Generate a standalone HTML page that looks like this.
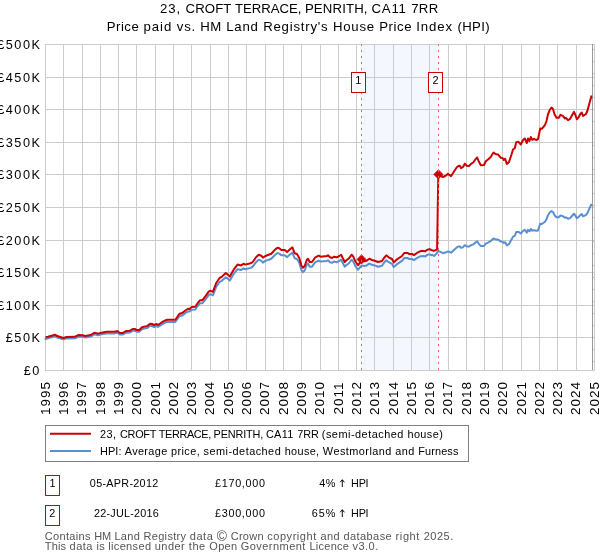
<!DOCTYPE html>
<html><head><meta charset="utf-8"><title>Price paid vs HPI</title>
<style>
html,body{margin:0;padding:0;background:#fff}
body{width:600px;height:560px;position:relative;overflow:hidden;font-family:"Liberation Sans",sans-serif;color:#000}
.t{position:absolute;white-space:pre;line-height:1;font-family:"Liberation Sans",sans-serif}
.r{position:absolute;white-space:nowrap;line-height:1;font-family:"Liberation Sans",sans-serif;transform:translate(-50%,-50%) rotate(-90deg)}
#txt{position:absolute;left:0;top:0;width:600px;height:560px;will-change:transform}
</style></head><body>
<svg width="600" height="560" viewBox="0 0 600 560" style="position:absolute;left:0;top:0">
<rect x="361.5" y="44.5" width="76.8" height="326" fill="#f4f8fe"/>
<path d="M45.5 44V371M63.5 44V371M82.5 44V371M100.5 44V371M118.5 44V371M136.5 44V371M155.5 44V371M173.5 44V371M191.5 44V371M210.5 44V371M228.5 44V371M246.5 44V371M265.5 44V371M283.5 44V371M301.5 44V371M320.5 44V371M338.5 44V371M356.5 44V371M374.5 44V371M393.5 44V371M411.5 44V371M429.5 44V371M448.5 44V371M466.5 44V371M484.5 44V371M502.5 44V371M521.5 44V371M539.5 44V371M557.5 44V371M576.5 44V371M594.5 44V371M45 370.5H595M45 337.5H595M45 305.5H595M45 272.5H595M45 240.5H595M45 207.5H595M45 174.5H595M45 142.5H595M45 109.5H595M45 77.5H595M45 44.5H595" stroke="#cccccc" stroke-width="1" fill="none"/>
<path d="M593 49.6H594.5M593 61.6H594.5M593 73.6H594.5M593 85.6H594.5M593 97.6H594.5M593 109.6H594.5M593 121.6H594.5M593 133.6H594.5M593 145.6H594.5M593 157.6H594.5M593 169.6H594.5M593 181.6H594.5M593 193.6H594.5M593 205.6H594.5M593 217.6H594.5M593 229.6H594.5M593 241.6H594.5M593 253.6H594.5M593 265.6H594.5M593 277.6H594.5M593 289.6H594.5M593 301.6H594.5M593 313.6H594.5M593 325.6H594.5M593 337.6H594.5M593 349.6H594.5M593 361.6H594.5" stroke="#c4c4c4" stroke-width="1" fill="none"/>
<path d="M592.5 44V370" stroke="#999999" stroke-width="1" fill="none"/>
<polyline points="44.7,339.3 48.0,338.2 53.3,336.8 54.7,336.2 57.3,337.5 63.3,339.4 66.7,338.4 74.7,338.3 78.7,336.5 82.7,336.8 85.3,337.5 90.7,336.5 94.7,334.3 98.0,335.2 101.3,334.3 106.7,333.4 114.7,333.4 117.3,332.7 120.0,334.6 122.7,334.6 126.0,332.7 130.0,332.4 132.7,330.8 134.7,330.8 136.7,331.7 139.3,331.7 142.0,329.2 145.3,328.3 147.3,327.9 150.0,325.7 152.0,326.0 154.0,327.0 156.7,326.0 158.0,327.0 161.3,324.8 164.7,322.8 167.3,321.9 175.3,321.9 179.3,316.4 182.7,315.2 186.0,312.6 188.0,311.5 189.6,311.6 191.6,309.8 195.3,309.5 197.7,306.0 200.1,303.2 202.5,303.2 205.7,299.1 208.9,294.8 210.5,294.2 212.9,295.3 216.2,286.8 219.4,282.2 222.1,280.6 225.8,277.3 227.4,278.3 229.8,280.6 233.8,273.8 237.5,269.2 241.1,269.9 243.5,268.3 245.1,269.2 250.7,267.9 252.7,266.7 256.0,262.2 258.7,259.7 261.3,260.6 262.9,262.6 265.3,260.9 268.7,259.7 271.3,258.7 274.7,255.2 277.3,253.0 279.3,253.6 281.3,255.2 284.7,255.2 287.1,257.1 290.0,254.5 292.4,252.6 294.7,258.3 296.9,259.0 299.3,262.8 301.3,269.8 302.9,272.1 304.7,270.5 306.7,264.8 308.0,263.5 309.7,266.7 312.0,266.7 315.3,262.2 318.7,260.6 320.7,261.6 326.7,260.9 328.0,260.3 330.0,262.2 332.0,262.8 334.0,261.6 336.7,262.2 339.3,260.9 341.1,259.7 342.7,262.8 344.7,266.7 346.7,264.8 348.7,263.5 351.7,259.7 353.3,261.6 355.3,266.0 358.0,269.8 360.0,267.3 361.6,265.4 364.0,266.0 366.7,265.4 369.3,263.5 372.0,264.8 374.7,265.4 378.0,266.7 382.0,265.7 384.0,262.8 386.3,260.3 388.7,262.2 392.0,263.8 393.7,267.1 396.7,264.4 400.0,262.2 402.0,260.9 404.4,258.0 407.3,258.0 409.3,259.0 412.0,259.0 414.0,260.1 417.3,257.8 420.7,256.2 423.3,256.1 425.3,256.4 427.3,254.9 429.6,254.3 431.3,255.2 432.2,254.9 434.1,256.0 436.4,253.8 438.2,250.9 443.0,253.2 446.0,252.3 448.0,251.3 451.0,252.7 454.0,249.9 457.0,247.2 458.8,246.4 460.0,246.6 461.0,247.9 463.0,247.2 464.8,245.2 466.8,246.4 469.0,246.6 471.0,245.2 473.2,244.4 475.5,242.4 477.2,241.4 478.8,243.8 480.8,246.1 484.0,246.0 485.8,243.7 488.0,242.6 490.5,241.2 493.5,238.4 495.5,239.3 498.5,239.8 500.8,241.6 502.5,241.7 503.8,242.9 505.2,242.2 506.8,245.3 509.0,244.1 511.5,239.6 513.0,236.6 514.8,235.8 516.2,232.1 518.5,231.9 520.8,233.5 523.0,230.8 524.8,229.9 526.8,232.6 528.0,229.9 529.5,231.4 530.8,229.0 532.2,230.7 534.0,230.1 536.0,230.8 538.0,230.4 540.2,223.8 541.8,224.0 545.0,221.7 546.5,219.3 548.0,215.2 550.0,212.3 551.5,211.1 553.0,212.0 554.5,215.2 556.5,217.3 558.8,217.3 560.5,215.5 562.8,216.1 565.0,217.8 566.0,217.3 568.0,218.8 570.0,218.1 572.2,215.7 574.0,213.7 575.2,215.3 576.8,218.2 578.5,217.2 580.0,215.3 581.8,214.1 583.0,216.3 586.0,215.0 587.5,212.9 589.5,208.4 591.6,203.8" fill="none" stroke="#5a8fd2" stroke-width="2" stroke-linejoin="round" stroke-linecap="butt"/>
<polyline points="45.5,337.3 48.0,336.7 53.3,335.3 54.7,334.7 57.3,336.0 63.3,338.0 66.7,337.0 74.7,336.8 78.7,335.0 82.7,335.3 85.3,336.0 90.7,335.0 94.7,332.7 98.0,333.6 101.3,332.7 106.7,331.7 114.7,331.7 117.3,331.0 120.0,333.0 122.7,333.0 126.0,331.0 130.0,330.7 132.7,329.0 134.7,329.0 136.7,330.0 139.3,330.0 142.0,327.3 145.3,326.4 147.3,326.0 150.0,323.7 152.0,324.0 154.0,325.0 156.7,324.0 158.0,325.0 161.3,322.7 164.7,320.7 167.3,319.7 175.3,319.7 179.3,314.0 182.7,312.7 186.0,310.0 188.0,308.8 189.6,309.0 191.6,307.1 195.3,306.8 197.7,303.1 200.1,300.2 202.5,300.2 205.7,295.9 208.9,291.4 210.5,290.8 212.9,291.9 216.2,283.0 219.4,278.2 222.1,276.6 225.8,273.1 227.4,274.2 229.8,276.6 233.8,269.4 237.5,264.6 241.1,265.4 243.5,263.7 245.1,264.6 250.7,263.3 252.7,262.0 256.0,257.3 258.7,254.7 261.3,255.7 262.9,257.7 265.3,256.0 268.7,254.7 271.3,253.7 274.7,250.0 277.3,247.7 279.3,248.3 281.3,250.0 284.7,250.0 287.1,252.0 290.0,249.3 292.4,247.3 294.7,253.3 296.9,254.0 299.3,258.0 301.3,265.3 302.9,267.7 304.7,266.0 306.7,260.0 308.0,258.7 309.7,262.0 312.0,262.0 315.3,257.3 318.7,255.7 320.7,256.7 326.7,256.0 328.0,255.3 330.0,257.3 332.0,258.0 334.0,256.7 336.7,257.3 339.3,256.0 341.1,254.7 342.7,258.0 344.7,262.0 346.7,260.0 348.7,258.7 351.7,254.7 353.3,256.7 355.3,261.3 358.0,265.3 360.0,262.7 361.6,260.7 364.0,261.3 366.7,260.7 369.3,258.7 372.0,260.0 374.7,260.7 378.0,262.0 382.0,261.0 384.0,258.0 386.3,255.3 388.7,257.3 392.0,259.0 393.7,262.4 396.7,259.6 400.0,257.3 402.0,256.0 404.4,252.9 407.3,252.9 409.3,254.0 412.0,254.0 414.0,255.1 417.3,252.7 420.7,251.1 423.3,250.9 425.3,251.3 427.3,249.7 429.6,249.1 431.3,250.0 434.0,250.9 436.7,249.6 437.1,248.9 438.3,174.5 443.0,177.0 446.0,175.5 448.0,173.8 451.0,176.2 454.0,171.5 457.0,167.0 458.8,165.8 460.0,166.0 461.0,168.2 463.0,167.0 464.8,163.8 466.8,165.8 469.0,166.0 471.0,163.8 473.2,162.5 475.5,159.2 477.2,157.5 478.8,161.5 480.8,165.2 484.0,165.0 485.8,161.2 488.0,159.5 490.5,157.2 493.5,152.5 495.5,154.0 498.5,154.8 500.8,157.8 502.5,158.0 503.8,160.0 505.2,158.8 506.8,164.0 509.0,162.0 511.5,154.5 513.0,149.5 514.8,148.2 516.2,142.2 518.5,141.8 520.8,144.5 523.0,140.0 524.8,138.5 526.8,143.0 528.0,138.5 529.5,141.0 530.8,137.0 532.2,139.8 534.0,138.8 536.0,140.0 538.0,139.3 540.2,128.5 541.8,128.8 545.0,125.0 546.5,121.0 548.0,114.2 550.0,109.5 551.5,107.5 553.0,109.0 554.5,114.2 556.5,117.8 558.8,117.8 560.5,114.8 562.8,115.8 565.0,118.5 566.0,117.8 568.0,120.2 570.0,119.0 572.2,115.0 574.0,111.8 575.2,114.5 576.8,119.2 578.5,117.5 580.0,114.5 581.8,112.5 583.0,116.0 586.0,114.0 587.5,110.5 589.5,103.0 591.6,95.4" fill="none" stroke="#cc0000" stroke-width="2" stroke-linejoin="round" stroke-linecap="butt"/>
<path d="M361.5 254.8L366.1 259.4L361.5 264.0L356.9 259.4Z" fill="#cc0000" stroke="#cc0000" stroke-width="0.7" stroke-linejoin="round"/>
<path d="M438.4 169.8L443.0 174.4L438.4 179.0L433.8 174.4Z" fill="#cc0000" stroke="#cc0000" stroke-width="0.7" stroke-linejoin="round"/>
<path d="M361.5 44.5V370.5" stroke="#fa5865" stroke-width="1" stroke-dasharray="2.2 3.8" stroke-dashoffset="0.6" fill="none"/>
<path d="M438.5 44.5V370.5" stroke="#fa5865" stroke-width="1" stroke-dasharray="2.2 3.8" stroke-dashoffset="0.6" fill="none"/>
<rect x="351.5" y="72.5" width="14" height="20" fill="#fff" stroke="#cc0000" stroke-width="1"/>
<rect x="428.5" y="72.5" width="14" height="20" fill="#fff" stroke="#cc0000" stroke-width="1"/>
<rect x="45.5" y="425.5" width="423" height="36" fill="#fff" stroke="#7f7f7f" stroke-width="1"/>
<path d="M50 433.8H91" stroke="#cc0000" stroke-width="2"/>
<path d="M50 450.9H91" stroke="#5a8fd2" stroke-width="2"/>
<rect x="45.5" y="475.5" width="14" height="20" fill="#fff" stroke="#cc0000" stroke-width="1"/>
<rect x="45.5" y="505.5" width="14" height="20" fill="#fff" stroke="#cc0000" stroke-width="1"/>
<path d="M342.3 487.0V480.0M340.2 482.3L342.3 479.7L344.4 482.3" fill="none" stroke="#000" stroke-width="0.95" stroke-linecap="butt" stroke-linejoin="miter"/>
<path d="M342.3 517.0V510.0M340.2 512.3L342.3 509.7L344.4 512.3" fill="none" stroke="#000" stroke-width="0.95" stroke-linecap="butt" stroke-linejoin="miter"/>
</svg>
<div id="txt">
<div class="t" style="left:160.02px;top:1.83px;font-size:13.20px;"><span style="letter-spacing:0.889px">23, </span><span style="letter-spacing:0.082px">CROFT </span><span style="letter-spacing:-0.042px">TERRACE, </span><span style="letter-spacing:0.151px">PENRITH, </span><span style="letter-spacing:0.825px">CA11 </span><span style="letter-spacing:0.247px">7RR</span></div>
<div class="t" style="left:106.64px;top:19.63px;font-size:13.20px;"><span style="letter-spacing:0.543px">Price </span><span style="letter-spacing:0.924px">paid </span><span style="letter-spacing:0.733px">vs. </span><span style="letter-spacing:0.576px">HM </span><span style="letter-spacing:0.789px">Land </span><span style="letter-spacing:0.790px">Registry's </span><span style="letter-spacing:0.748px">House </span><span style="letter-spacing:0.543px">Price </span><span style="letter-spacing:0.873px">Index </span><span style="letter-spacing:0.361px">(HPI)</span></div>
<div class="t" style="top:365.05px;font-size:12.70px;letter-spacing:1.550px;right:559.15px">£0</div>
<div class="t" style="top:332.45px;font-size:12.70px;letter-spacing:1.550px;right:558.45px">£50K</div>
<div class="t" style="top:299.85px;font-size:12.70px;letter-spacing:1.550px;right:558.45px">£100K</div>
<div class="t" style="top:267.25px;font-size:12.70px;letter-spacing:1.550px;right:558.45px">£150K</div>
<div class="t" style="top:234.65px;font-size:12.70px;letter-spacing:1.550px;right:558.45px">£200K</div>
<div class="t" style="top:202.05px;font-size:12.70px;letter-spacing:1.550px;right:558.45px">£250K</div>
<div class="t" style="top:169.45px;font-size:12.70px;letter-spacing:1.550px;right:558.45px">£300K</div>
<div class="t" style="top:136.85px;font-size:12.70px;letter-spacing:1.550px;right:558.45px">£350K</div>
<div class="t" style="top:104.25px;font-size:12.70px;letter-spacing:1.550px;right:558.45px">£400K</div>
<div class="t" style="top:71.65px;font-size:12.70px;letter-spacing:1.550px;right:558.45px">£450K</div>
<div class="t" style="top:39.05px;font-size:12.70px;letter-spacing:1.550px;right:558.45px">£500K</div>
<div class="r" style="left:45.80px;top:398.10px;font-size:13.50px;letter-spacing:1.000px">1995</div>
<div class="r" style="left:64.09px;top:398.10px;font-size:13.50px;letter-spacing:1.000px">1996</div>
<div class="r" style="left:82.42px;top:398.10px;font-size:13.50px;letter-spacing:1.000px">1997</div>
<div class="r" style="left:100.71px;top:398.10px;font-size:13.50px;letter-spacing:1.000px">1998</div>
<div class="r" style="left:119.00px;top:398.10px;font-size:13.50px;letter-spacing:1.000px">1999</div>
<div class="r" style="left:137.28px;top:398.10px;font-size:13.50px;letter-spacing:1.000px">2000</div>
<div class="r" style="left:155.62px;top:398.10px;font-size:13.50px;letter-spacing:1.000px">2001</div>
<div class="r" style="left:173.91px;top:398.10px;font-size:13.50px;letter-spacing:1.000px">2002</div>
<div class="r" style="left:192.19px;top:398.10px;font-size:13.50px;letter-spacing:1.000px">2003</div>
<div class="r" style="left:210.48px;top:398.10px;font-size:13.50px;letter-spacing:1.000px">2004</div>
<div class="r" style="left:228.82px;top:398.10px;font-size:13.50px;letter-spacing:1.000px">2005</div>
<div class="r" style="left:247.10px;top:398.10px;font-size:13.50px;letter-spacing:1.000px">2006</div>
<div class="r" style="left:265.39px;top:398.10px;font-size:13.50px;letter-spacing:1.000px">2007</div>
<div class="r" style="left:283.68px;top:398.10px;font-size:13.50px;letter-spacing:1.000px">2008</div>
<div class="r" style="left:302.01px;top:398.10px;font-size:13.50px;letter-spacing:1.000px">2009</div>
<div class="r" style="left:320.30px;top:398.10px;font-size:13.50px;letter-spacing:1.000px">2010</div>
<div class="r" style="left:338.59px;top:398.10px;font-size:13.50px;letter-spacing:1.000px">2011</div>
<div class="r" style="left:356.87px;top:398.10px;font-size:13.50px;letter-spacing:1.000px">2012</div>
<div class="r" style="left:375.21px;top:398.10px;font-size:13.50px;letter-spacing:1.000px">2013</div>
<div class="r" style="left:393.50px;top:398.10px;font-size:13.50px;letter-spacing:1.000px">2014</div>
<div class="r" style="left:411.78px;top:398.10px;font-size:13.50px;letter-spacing:1.000px">2015</div>
<div class="r" style="left:430.07px;top:398.10px;font-size:13.50px;letter-spacing:1.000px">2016</div>
<div class="r" style="left:448.41px;top:398.10px;font-size:13.50px;letter-spacing:1.000px">2017</div>
<div class="r" style="left:466.69px;top:398.10px;font-size:13.50px;letter-spacing:1.000px">2018</div>
<div class="r" style="left:484.98px;top:398.10px;font-size:13.50px;letter-spacing:1.000px">2019</div>
<div class="r" style="left:503.27px;top:398.10px;font-size:13.50px;letter-spacing:1.000px">2020</div>
<div class="r" style="left:521.60px;top:398.10px;font-size:13.50px;letter-spacing:1.000px">2021</div>
<div class="r" style="left:539.89px;top:398.10px;font-size:13.50px;letter-spacing:1.000px">2022</div>
<div class="r" style="left:558.18px;top:398.10px;font-size:13.50px;letter-spacing:1.000px">2023</div>
<div class="r" style="left:576.46px;top:398.10px;font-size:13.50px;letter-spacing:1.000px">2024</div>
<div class="r" style="left:594.80px;top:398.10px;font-size:13.50px;letter-spacing:1.000px">2025</div>
<div class="t" style="left:355.30px;top:74.67px;font-size:10.90px">1</div>
<div class="t" style="left:432.50px;top:74.67px;font-size:10.90px">2</div>
<div class="t" style="left:99.88px;top:429.17px;font-size:10.90px;"><span style="letter-spacing:0.472px">23, </span><span style="letter-spacing:-0.266px">CROFT </span><span style="letter-spacing:-0.353px">TERRACE, </span><span style="letter-spacing:-0.178px">PENRITH, </span><span style="letter-spacing:0.356px">CA11 </span><span style="letter-spacing:-0.043px">7RR </span><span style="letter-spacing:0.503px">(semi-detached </span><span style="letter-spacing:0.415px">house)</span></div>
<div class="t" style="left:100.00px;top:445.97px;font-size:10.90px;"><span style="letter-spacing:0.097px">HPI: </span><span style="letter-spacing:0.356px">Average </span><span style="letter-spacing:0.428px">price, </span><span style="letter-spacing:0.472px">semi-detached </span><span style="letter-spacing:0.349px">house, </span><span style="letter-spacing:0.458px">Westmorland </span><span style="letter-spacing:0.448px">and </span><span style="letter-spacing:0.113px">Furness</span></div>
<div class="t" style="left:49.50px;top:477.86px;font-size:10.80px">1</div>
<div class="t" style="left:89.85px;top:477.86px;font-size:10.80px;"><span style="letter-spacing:0.295px">05-APR-2012</span></div>
<div class="t" style="left:215.03px;top:477.86px;font-size:10.80px;"><span style="letter-spacing:0.700px">£170,000</span></div>
<div class="t" style="left:319.23px;top:477.86px;font-size:10.80px;"><span style="letter-spacing:0.513px">4%</span></div>
<div class="t" style="left:338px;top:477.86px;font-size:10.8px;color:transparent"> ↑ </div>
<div class="t" style="left:351.12px;top:477.86px;font-size:10.80px;"><span style="letter-spacing:-0.280px">HPI</span></div>
<div class="t" style="left:49.30px;top:507.86px;font-size:10.80px">2</div>
<div class="t" style="left:94.01px;top:507.86px;font-size:10.80px;"><span style="letter-spacing:0.238px">22-JUL-2016</span></div>
<div class="t" style="left:215.03px;top:507.86px;font-size:10.80px;"><span style="letter-spacing:0.700px">£300,000</span></div>
<div class="t" style="left:311.85px;top:507.86px;font-size:10.80px;"><span style="letter-spacing:0.917px">65%</span></div>
<div class="t" style="left:338px;top:507.86px;font-size:10.8px;color:transparent"> ↑ </div>
<div class="t" style="left:351.12px;top:507.86px;font-size:10.80px;"><span style="letter-spacing:-0.280px">HPI</span></div>
<div class="t" style="left:44.73px;top:530.69px;font-size:11.00px;color:#555555;"><span style="letter-spacing:0.326px">Contains </span><span style="letter-spacing:0.051px">HM </span><span style="letter-spacing:0.291px">Land </span><span style="letter-spacing:0.332px">Registry </span><span style="letter-spacing:0.513px">data </span><span style="font-size:1.25em;line-height:0;vertical-align:-0.09em;letter-spacing:-0.047px">© </span><span style="letter-spacing:0.273px">Crown </span><span style="letter-spacing:0.547px">copyright </span><span style="letter-spacing:0.427px">and </span><span style="letter-spacing:0.419px">database </span><span style="letter-spacing:0.598px">right </span><span style="letter-spacing:0.515px">2025.</span></div>
<div class="t" style="left:44.78px;top:540.69px;font-size:11.00px;color:#555555;"><span style="letter-spacing:0.182px">This </span><span style="letter-spacing:0.495px">data </span><span style="letter-spacing:0.236px">is </span><span style="letter-spacing:0.351px">licensed </span><span style="letter-spacing:0.472px">under </span><span style="letter-spacing:0.545px">the </span><span style="letter-spacing:0.273px">Open </span><span style="letter-spacing:0.465px">Government </span><span style="letter-spacing:0.272px">Licence </span><span style="letter-spacing:0.470px">v3.0.</span></div>
</div>
</body></html>
